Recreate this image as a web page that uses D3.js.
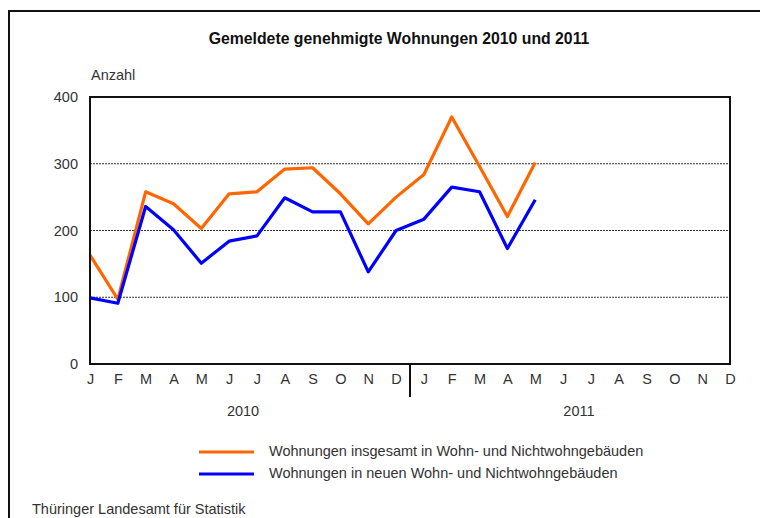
<!DOCTYPE html>
<html lang="de">
  <head>
    <meta charset="utf-8">
    <style>
    body { margin: 0; background: #fff; }
    svg text { font-family: "Liberation Sans", Arial, sans-serif; }
    </style>
  </head>
  <body>
    <script src="https://cdn.jsdelivr.net/npm/d3@7/dist/d3.min.js"></script>
    <script>
      // Daten
      var months = ["J","F","M","A","M","J","J","A","S","O","N","D",
                    "J","F","M","A","M","J","J","A","S","O","N","D"];
      var years = ["2010", "2011"];
      var insgesamt = [163, 97, 258, 240, 203, 255, 258, 292, 294, 255, 210, 250,
                       284, 370, 296, 221, 302];
      var neueGebaeude = [99, 91, 236, 201, 151, 184, 192, 249, 228, 228, 138, 200,
                          217, 265, 258, 173, 246];
      var yTicks = [0, 100, 200, 300, 400];
      var seriesNames = ["Wohnungen insgesamt in Wohn- und Nichtwohngebäuden",
                         "Wohnungen in neuen Wohn- und Nichtwohngebäuden"];
      var seriesColors = ["#ff6600", "#0000ff"];

      var w = 760, h = 518;
      // Plotbereich (nicht "top" nennen, das ist window.top!)
      var plotL = 90, plotR = 730, plotT = 97, plotB = 364;
      var fs = "14.5px";

      var svg = d3.select("body").append("svg")
        .attr("width", w).attr("height", h);

      // äußerer Rahmen (oben und links)
      svg.append("path")
        .attr("d", "M9,518 V11 H760")
        .attr("fill", "none").attr("stroke", "#111").attr("stroke-width", 2);

      var x = d3.scalePoint()
        .domain(d3.range(months.length))
        .range([plotL, plotR]);
      var y = d3.scaleLinear().domain([0, 400]).range([plotB, plotT]);

      // Titel
      svg.append("text")
        .attr("x", 399).attr("y", 44)
        .attr("text-anchor", "middle")
        .attr("font-size", "15.8px").attr("font-weight", "bold")
        .attr("fill", "#111")
        .text("Gemeldete genehmigte Wohnungen 2010 und 2011");

      svg.append("text")
        .attr("x", 91).attr("y", 80)
        .attr("font-size", fs).attr("fill", "#333")
        .text("Anzahl");

      // Gitterlinien
      svg.selectAll("line.grid")
        .data(yTicks.filter(function(d) { return d > 0 && d < 400; }))
        .enter().append("line")
        .attr("class", "grid")
        .attr("x1", plotL).attr("x2", plotR)
        .attr("y1", function(d) { return y(d); })
        .attr("y2", function(d) { return y(d); })
        .attr("stroke", "#000").attr("stroke-width", 0.8)
        .attr("stroke-dasharray", "2,1");

      // y-Achse
      var yAxis = svg.append("g")
        .attr("transform", "translate(" + plotL + ",0)")
        .call(d3.axisLeft(y).tickValues(yTicks).tickSize(0).tickPadding(12));
      yAxis.select(".domain").remove();
      yAxis.selectAll("text").attr("font-size", fs).attr("fill", "#333")
        .attr("font-family", "Liberation Sans, Arial, sans-serif");

      // x-Achse
      var xAxis = svg.append("g")
        .attr("transform", "translate(0," + plotB + ")")
        .call(d3.axisBottom(x).tickSize(0).tickPadding(10)
          .tickFormat(function(d) { return months[d]; }));
      xAxis.select(".domain").remove();
      xAxis.selectAll("text").attr("font-size", fs).attr("fill", "#333")
        .attr("font-family", "Liberation Sans, Arial, sans-serif");

      // Trennlinie zwischen den Jahren
      var sep = (x(11) + x(12)) / 2;
      svg.append("line")
        .attr("x1", sep).attr("x2", sep)
        .attr("y1", plotB).attr("y2", 397)
        .attr("stroke", "#111").attr("stroke-width", 2);

      // Jahreslabels
      svg.selectAll("text.year")
        .data(years)
        .enter().append("text")
        .attr("class", "year")
        .attr("x", function(d, i) { return (x(i * 12 + 5) + x(i * 12 + 6)) / 2 + i * 2; })
        .attr("y", 416)
        .attr("text-anchor", "middle")
        .attr("font-size", fs).attr("fill", "#333")
        .text(function(d) { return d; });

      // Linien
      var line = d3.line()
        .x(function(d, i) { return x(i); })
        .y(function(d) { return y(d); });

      svg.selectAll("path.series")
        .data([insgesamt, neueGebaeude])
        .enter().append("path")
        .attr("class", "series")
        .attr("d", line)
        .attr("fill", "none")
        .attr("stroke", function(d, i) { return seriesColors[i]; })
        .attr("stroke-width", 3.2)
        .attr("stroke-linejoin", "round");

      // Plotrahmen
      svg.append("rect")
        .attr("x", plotL).attr("y", plotT)
        .attr("width", plotR - plotL).attr("height", plotB - plotT)
        .attr("fill", "none").attr("stroke", "#111").attr("stroke-width", 2);

      // Legende
      var legend = svg.selectAll("g.legend")
        .data(seriesNames)
        .enter().append("g")
        .attr("class", "legend")
        .attr("transform", function(d, i) { return "translate(0," + (452 + i * 22) + ")"; });
      legend.append("line")
        .attr("x1", 199).attr("x2", 254)
        .attr("stroke", function(d, i) { return seriesColors[i]; })
        .attr("stroke-width", 3);
      legend.append("text")
        .attr("x", 269).attr("y", 3.5)
        .attr("font-size", fs).attr("fill", "#333")
        .text(function(d) { return d; });

      svg.append("text")
        .attr("x", 32).attr("y", 514)
        .attr("font-size", fs).attr("fill", "#333")
        .text("Thüringer Landesamt für Statistik");
    </script>
  </body>
</html>
